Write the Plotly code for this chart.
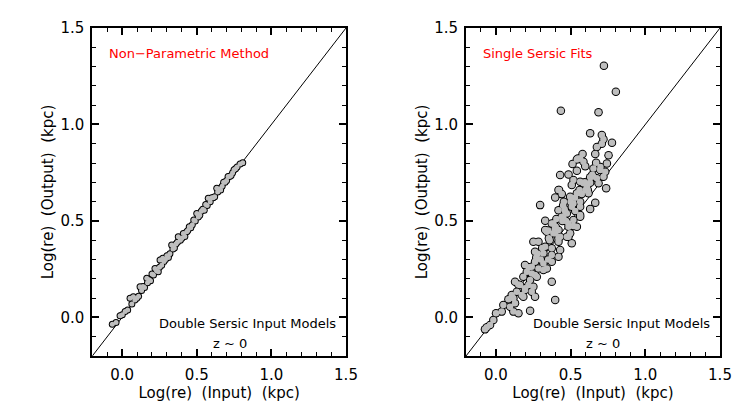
import plotly.graph_objects as go

# ---- data ----
left_x = [-0.066, -0.041, -0.014, 0.001, 0.02, 0.037, 0.053, 0.075, 0.098, 0.11, 0.12, 0.14, 0.15,
          0.165, 0.18, 0.19, 0.2, 0.22, 0.23, 0.242, 0.254, 0.272, 0.28, 0.3, 0.31, 0.332, 0.34,
          0.36, 0.376, 0.39, 0.41, 0.42, 0.433, 0.45, 0.46, 0.48, 0.5, 0.51, 0.53, 0.55, 0.56,
          0.577, 0.59, 0.6, 0.62, 0.634, 0.65, 0.66, 0.68, 0.7, 0.71, 0.73, 0.75, 0.76, 0.79, 0.808,
          0.065, 0.085, 0.13, 0.17, 0.21, 0.25, 0.265, 0.29, 0.32, 0.35, 0.37, 0.4, 0.44, 0.47,
          0.49, 0.52, 0.54, 0.57, 0.61, 0.64, 0.67, 0.69, 0.72, 0.74, 0.77]
left_y = [-0.036, -0.027, 0.009, 0.014, 0.03, 0.038, 0.099, 0.107, 0.099, 0.11, 0.159, 0.16, 0.155,
          0.203, 0.195, 0.19, 0.225, 0.254, 0.242, 0.237, 0.297, 0.306, 0.29, 0.32, 0.31, 0.375, 0.355,
          0.38, 0.418, 0.40, 0.435, 0.42, 0.444, 0.47, 0.465, 0.505, 0.539, 0.52, 0.55, 0.555, 0.585,
          0.617, 0.60, 0.62, 0.625, 0.669, 0.665, 0.66, 0.70, 0.71, 0.73, 0.735, 0.765, 0.77, 0.795, 0.802,
          0.07, 0.09, 0.14, 0.18, 0.22, 0.26, 0.27, 0.30, 0.33, 0.36, 0.39, 0.41, 0.45, 0.48,
          0.50, 0.53, 0.56, 0.58, 0.62, 0.65, 0.68, 0.70, 0.73, 0.75, 0.78]

right_x = [0.723, 0.803, 0.687, 0.435, 0.631, 0.709, 0.720, 0.709, 0.777, 0.676,
           0.665, 0.58, 0.754, 0.549, 0.513, 0.586, 0.598, 0.671, 0.743, 0.653, 0.698, 0.542, 0.732,
           0.43, 0.486, 0.519, 0.564, 0.631, 0.676, 0.72, 0.508, 0.586, 0.631, 0.687, 0.738, 0.419,
           0.441, 0.397, 0.497, 0.542, 0.62, 0.564, 0.665, 0.508, 0.419, 0.464, 0.531, 0.631, 0.564,
           0.441, 0.33, 0.385, 0.486, 0.519, 0.341, 0.397, 0.486, 0.419, 0.296,
           0.519, 0.564, 0.475, 0.452, 0.564, 0.519, 0.486, 0.374, 0.419, 0.497, 0.542, 0.475, 0.33,
           0.385, 0.43, 0.419, 0.508, 0.251, 0.285, 0.33, 0.374, 0.43, 0.262, 0.318, 0.374, 0.419,
           0.262, 0.318, 0.374, 0.341, 0.195, 0.24, 0.285, 0.262, 0.207, 0.184, 0.229, 0.251, 0.128,
           0.162, 0.195, 0.14, 0.106, 0.173, 0.24, 0.374, 0.397, 0.262, 0.084,
           0.24, 0.274, 0.318, 0.218, 0.195, 0.117, 0.05, 0.095, 0.128, 0.184, 0.117, 0.151, 0.229,
           0.001, 0.039, -0.017, -0.039, -0.061, -0.073, 0.423, 0.542, 0.564,
           0.61, 0.6, 0.645, 0.7, 0.56, 0.5, 0.47, 0.45, 0.4, 0.36, 0.35, 0.3, 0.28, 0.22, 0.15,
           0.355, 0.395, 0.445, 0.46, 0.53, 0.575, 0.595, 0.615, 0.65, 0.455, 0.35, 0.31, 0.27, 0.405]
right_y = [1.304, 1.169, 1.063, 1.071, 0.954, 0.945, 0.924, 0.900, 0.905, 0.883,
           0.847, 0.847, 0.840, 0.824, 0.795, 0.807, 0.784, 0.802, 0.798, 0.772, 0.764, 0.760, 0.755,
           0.738, 0.741, 0.712, 0.703, 0.726, 0.721, 0.729, 0.686, 0.695, 0.698, 0.695, 0.669, 0.660,
           0.639, 0.622, 0.625, 0.643, 0.643, 0.600, 0.594, 0.574, 0.556, 0.548, 0.551, 0.562, 0.522,
           0.522, 0.501, 0.487, 0.487, 0.474, 0.444, 0.436, 0.418, 0.410, 0.582,
           0.591, 0.574, 0.539, 0.513, 0.531, 0.505, 0.470, 0.487, 0.453, 0.436, 0.470, 0.418, 0.453,
           0.436, 0.418, 0.392, 0.384, 0.392, 0.392, 0.366, 0.358, 0.349, 0.340, 0.332, 0.323, 0.314,
           0.289, 0.280, 0.289, 0.254, 0.271, 0.263, 0.254, 0.220, 0.237, 0.211, 0.194, 0.159, 0.185,
           0.168, 0.151, 0.133, 0.116, 0.116, 0.133, 0.185, 0.090, 0.107, 0.094,
           0.228, 0.211, 0.246, 0.168, 0.142, 0.099, 0.064, 0.055, 0.073, 0.107, 0.030, 0.021, 0.035,
           0.021, 0.030, -0.013, -0.039, -0.051, -0.062, 0.660, 0.819, 0.824,
           0.68, 0.66, 0.74, 0.78, 0.66, 0.6, 0.5, 0.58, 0.47, 0.40, 0.30, 0.30, 0.33, 0.26, 0.17,
           0.41, 0.46, 0.50, 0.56, 0.62, 0.64, 0.70, 0.66, 0.73, 0.60, 0.45, 0.36, 0.31, 0.51]

line_xy = [-0.2, 1.5]
tick_vals = [0.0, 0.5, 1.0, 1.5]
tick_text = ["0.0", "0.5", "1.0", "1.5"]

NB = "\u00a0"
x_title = f"Log(re){NB}{NB}(Input){NB}{NB}(kpc)"
y_title = f"Log(re){NB}{NB}(Output){NB}{NB}(kpc)"
labels = ["Non\u2212Parametric" + NB + "Method", "Single" + NB + "Sersic" + NB + "Fits"]
note1 = "Double" + NB + "Sersic" + NB + "Input" + NB + "Models"
note2 = "z" + NB + "~" + NB + "0"

FONT = "DejaVu Sans"
GRAY = "#bebebe"

fig = go.Figure()
panels = [(left_x, left_y, "x", "y", 7, 5), (right_x, right_y, "x2", "y2", 8.5, 6.5)]
for px, py, xa, ya, so, si in panels:
    fig.add_trace(go.Scatter(x=line_xy, y=line_xy, mode="lines", line=dict(color="black", width=1),
                             xaxis=xa, yaxis=ya, showlegend=False, hoverinfo="skip"))
    fig.add_trace(go.Scatter(x=px, y=py, mode="markers", marker=dict(color="black", size=so),
                             xaxis=xa, yaxis=ya, showlegend=False))
    fig.add_trace(go.Scatter(x=px, y=py, mode="markers", marker=dict(color=GRAY, size=si),
                             xaxis=xa, yaxis=ya, showlegend=False))

W, H = 747, 415
OFF = 8  # page body margin offset
def xdom(a, b):
    return [(a - OFF) / W, (b - OFF) / W]
ydom = [(H - (356 - OFF)) / H, (H - (28 - OFF)) / H]

axis_common = dict(range=[-0.2, 1.5], tickvals=tick_vals, ticktext=tick_text, ticks="inside",
                   ticklen=7, tickwidth=1.5, tickcolor="black", showline=True, linewidth=2,
                   linecolor="black", mirror="allticks", showgrid=False, zeroline=False,
                   automargin=False,
                   tickfont=dict(family=FONT, size=15, color="black"),
                   minor=dict(dtick=0.1, tick0=0, ticks="inside", ticklen=4, tickwidth=1,
                              tickcolor="black", showgrid=False))

fig.update_layout(
    width=W, height=H, margin=dict(l=0, r=0, t=0, b=0),
    paper_bgcolor="white", plot_bgcolor="white",
    font=dict(family=FONT, color="black"),
    xaxis=dict(domain=xdom(92.3, 346), anchor="y", ticklabelstandoff=4,
               title=dict(text=x_title, font=dict(size=15), standoff=4), **axis_common),
    yaxis=dict(domain=ydom, anchor="x", ticklabelstandoff=3,
               title=dict(text=y_title, font=dict(size=15), standoff=3), **axis_common),
    xaxis2=dict(domain=xdom(466, 720), anchor="y2", ticklabelstandoff=4,
                title=dict(text=x_title, font=dict(size=15), standoff=4), **axis_common),
    yaxis2=dict(domain=ydom, anchor="x2", ticklabelstandoff=3,
                title=dict(text=y_title, font=dict(size=15), standoff=3), **axis_common),
)

for i, (xr, yr) in enumerate([("x", "y"), ("x2", "y2")]):
    fig.add_annotation(x=-0.1, y=1.37, xref=xr, yref=yr, text=labels[i], showarrow=False,
                       xanchor="left", yanchor="middle", font=dict(family=FONT, size=13, color="red"))
    fig.add_annotation(x=1.447, y=-0.029, xref=xr, yref=yr, text=note1, showarrow=False,
                       xanchor="right", yanchor="middle", font=dict(family=FONT, size=13, color="black"))
    fig.add_annotation(x=0.72, y=-0.133, xref=xr, yref=yr, text=note2, showarrow=False,
                       xanchor="center", yanchor="middle", font=dict(family=FONT, size=13, color="black"))

fig.write_html("out.html")
